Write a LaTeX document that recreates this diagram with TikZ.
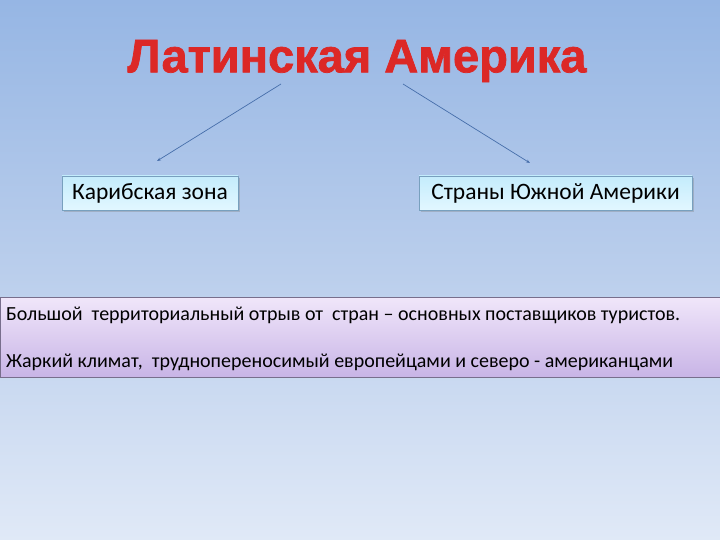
\documentclass[tikz,border=0pt]{standalone}
\usepackage{fontspec}
\setmainfont{Carlito}
\newfontfamily\titlefont[FakeBold=1.6]{Liberation Sans Bold}
\usetikzlibrary{arrows.meta,shadows}
\definecolor{bgtop}{RGB}{150,182,228}
\definecolor{bgmid}{RGB}{186,206,236}
\definecolor{bgbot}{RGB}{224,233,247}
\definecolor{boxtop}{RGB}{196,236,252}
\definecolor{boxbot}{RGB}{226,247,255}
\definecolor{boxedge}{RGB}{120,160,190}
\definecolor{lavtop}{RGB}{240,230,250}
\definecolor{lavbot}{RGB}{200,180,230}
\definecolor{lavedge}{RGB}{120,110,140}
\definecolor{arrowc}{RGB}{70,110,170}
\definecolor{titlered}{RGB}{220,40,38}
\tikzset{
  zonebox/.style={draw=boxedge, line width=0.8pt, top color=boxtop, bottom color=boxbot,
    minimum height=34pt, inner xsep=8pt, font=\fontsize{23.5}{26}\selectfont, text=black,
    drop shadow={shadow xshift=2pt, shadow yshift=-2pt, opacity=0.35}},
  conn/.style={draw=arrowc, line width=0.7pt, -{Stealth[length=4pt,width=3pt]}},
  bodytext/.style={anchor=west, font=\fontsize{20}{22}\selectfont, inner sep=0pt},
}
\begin{document}
\begin{tikzpicture}[x=1pt,y=-1pt]
\useasboundingbox (0,0) rectangle (720,540);
\shade[top color=bgtop, bottom color=bgmid] (0,0) rectangle (720,270);
\shade[top color=bgmid, bottom color=bgbot] (0,270) rectangle (720,540);
% title
\node (title) [text=titlered, font=\titlefont\fontsize{47}{52}\selectfont] at (357,61) {Латинская Америка};
\coordinate (t1) at (281,84);
\coordinate (t2) at (403,84);
\node (carib) [zonebox, minimum width=176pt] at (150,193) {Карибская зона};
\node (south) [zonebox, minimum width=273pt] at (555.5,193) {Страны Южной Америки};
\coordinate (e1) at (157,161);
\coordinate (e2) at (530,163);
\draw[conn] (t1) -- (e1);
\draw[conn] (t2) -- (e2);
% bottom box
\node (bottom) [draw=lavedge, line width=0.8pt, top color=lavtop, bottom color=lavbot,
  minimum width=720pt, minimum height=80pt, anchor=north west, inner sep=0pt] at (0,297) {};
\node (l1) [bodytext] at (6,315) {Большой\ \ территориальный отрыв от\ \ стран – основных поставщиков туристов.};
\node (l2) [bodytext] at (6,362) {Жаркий климат,\ \ труднопереносимый европейцами и северо - американцами};
\end{tikzpicture}
\end{document}
